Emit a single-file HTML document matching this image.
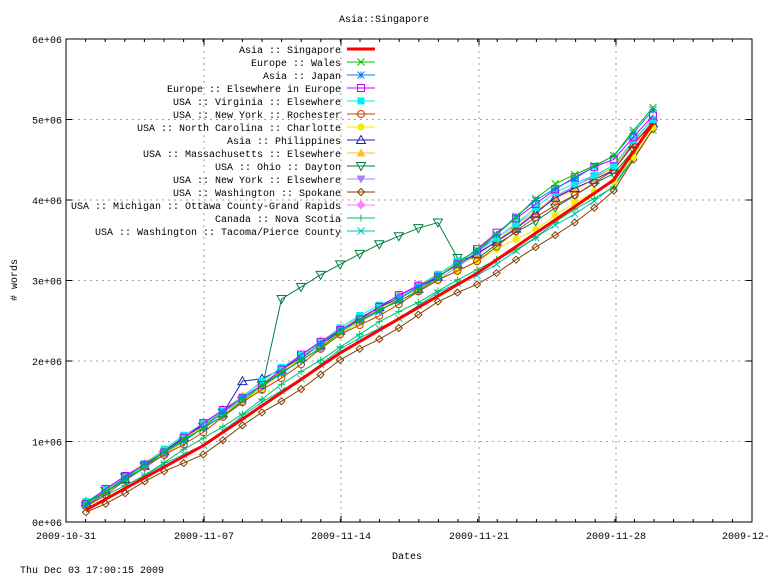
<!DOCTYPE html><html><head><meta charset="utf-8"><style>
body{margin:0;background:#fff}
svg text{font-family:"Liberation Mono",monospace;font-size:10px;fill:#000}
</style></head><body>
<svg id="s" width="768" height="576" xmlns="http://www.w3.org/2000/svg"></svg>
<script>
const s=document.getElementById('s');let h='';
const L=66,R=752,T=39,B=522;
const Y=v=>B-v*80.5, X=i=>86+19.55*i;
h+=`<rect width="768" height="576" fill="#fff"/>`;
for(let k=1;k<6;k++)h+=`<line x1="${L}" x2="${R}" y1="${Y(k)}" y2="${Y(k)}" stroke="#a0a0a0" stroke-dasharray="2,4"/>`;
[204,341,479,616].forEach(x=>h+=`<line x1="${x}" x2="${x}" y1="${T}" y2="${B}" stroke="#a0a0a0" stroke-dasharray="2,4"/>`);
h+=`<rect x="${L}" y="${T}" width="${R-L}" height="${B-T}" fill="none" stroke="#000"/>`;
for(let k=0;k<=6;k++){const y=Y(k);h+=`<line x1="${L}" x2="${L+6}" y1="${y}" y2="${y}" stroke="#000"/><line x1="${R}" x2="${R-6}" y1="${y}" y2="${y}" stroke="#000"/><text x="${L-4}" y="${y+4}" text-anchor="end">${k}e+06</text>`;}
const xd=['2009-10-31','2009-11-07','2009-11-14','2009-11-21','2009-11-28','2009-12-05'];
[66,204,341,479,616,752].forEach((x,j)=>{h+=`<line x1="${x}" x2="${x}" y1="${B}" y2="${B-6}" stroke="#000"/><line x1="${x}" x2="${x}" y1="${T}" y2="${T+6}" stroke="#000"/><text x="${x}" y="${B+17}" text-anchor="middle">${xd[j]}</text>`;});
for(let i=0;i<36;i++){const x=66+19.6*i;if(x>752)break;h+=`<line x1="${x}" x2="${x}" y1="${B}" y2="${B-3}" stroke="#000"/><line x1="${x}" x2="${x}" y1="${T}" y2="${T+3}" stroke="#000"/>`;}
h+=`<text x="384" y="22" text-anchor="middle">Asia::Singapore</text><text x="407" y="559" text-anchor="middle">Dates</text><text x="17" y="280" text-anchor="middle" transform="rotate(-90 17 280)"># words</text><text x="20" y="573">Thu Dec 03 17:00:15 2009</text>`;
function pw(kp,i){for(let k=0;k<kp.length-1;k++){const[a,va]=kp[k],[b,vb]=kp[k+1];if(i<=b)return va+(vb-va)*(i-a)/(b-a);}return kp[kp.length-1][1];}
const kp=[[0,.15],[6,.95],[13,2.1],[20,3.09],[27,4.25],[29,4.95]];
const off=[[0,.08],[6,.26],[13,.3],[20,.24],[24,.27],[27,.15],[29,.05]];
const late=[[0,0],[18,0],[23,.2],[26,.2],[29,.15]];
const S=[
['Asia :: Singapore','#ff0000',0,0,'none'],
['Europe :: Wales','#00c000',.85,1,'x'],
['Asia :: Japan','#0080ff',.9,.8,'star'],
['Europe :: Elsewhere in Europe','#c000ff',1,.6,'sq'],
['USA :: Virginia :: Elsewhere','#00eeee',1.05,.2,'fsq'],
['USA :: New York :: Rochester','#c04000',.7,0,'c'],
['USA :: North Carolina :: Charlotte','#eeee00',.85,-.8,'fc'],
['Asia :: Philippines','#2020c0',.95,0,'tri'],
['USA :: Massachusetts :: Elsewhere','#ffc020',1,0,'ftri'],
['USA :: Ohio :: Dayton','#008040',.85,-.3,'itri'],
['USA :: New York :: Elsewhere','#a080ff',.8,.3,'fitri'],
['USA :: Washington :: Spokane','#804000',-.35,-.5,'dia'],
['USA :: Michigan :: Ottawa County-Grand Rapids','#ff80ff',1,.1,'fdia'],
['Canada :: Nova Scotia','#00c060',.3,-.6,'plus'],
['USA :: Washington :: Tacoma/Pierce County','#00c0c0',.1,-.5,'x']];
function mk(t,x,y,c){const r=3.5;switch(t){
case 'x':return `<path d="M${x-r} ${y-r}L${x+r} ${y+r}M${x-r} ${y+r}L${x+r} ${y-r}" stroke="${c}"/>`;
case 'plus':return `<path d="M${x-r} ${y}H${x+r}M${x} ${y-r}V${y+r}" stroke="${c}"/>`;
case 'star':return `<path d="M${x-r} ${y-r}L${x+r} ${y+r}M${x-r} ${y+r}L${x+r} ${y-r}M${x-r} ${y}H${x+r}M${x} ${y-r}V${y+r}" stroke="${c}"/>`;
case 'sq':return `<rect x="${x-r}" y="${y-r}" width="${2*r}" height="${2*r}" fill="none" stroke="${c}"/>`;
case 'fsq':return `<rect x="${x-r}" y="${y-r}" width="${2*r}" height="${2*r}" fill="${c}"/>`;
case 'c':return `<circle cx="${x}" cy="${y}" r="${r}" fill="none" stroke="${c}"/>`;
case 'fc':return `<circle cx="${x}" cy="${y}" r="${r}" fill="${c}"/>`;
case 'tri':return `<path d="M${x} ${y-r-1}L${x+r+1} ${y+r}H${x-r-1}Z" fill="none" stroke="${c}"/>`;
case 'ftri':return `<path d="M${x} ${y-r-1}L${x+r+1} ${y+r}H${x-r-1}Z" fill="${c}"/>`;
case 'itri':return `<path d="M${x} ${y+r+1}L${x+r+1} ${y-r}H${x-r-1}Z" fill="none" stroke="${c}"/>`;
case 'fitri':return `<path d="M${x} ${y+r+1}L${x+r+1} ${y-r}H${x-r-1}Z" fill="${c}"/>`;
case 'dia':return `<path d="M${x} ${y-r}L${x+r} ${y}L${x} ${y+r}L${x-r} ${y}Z" fill="none" stroke="${c}"/>`;
case 'fdia':return `<path d="M${x} ${y-r-1}L${x+r+1} ${y}L${x} ${y+r+1}L${x-r-1} ${y}Z" fill="${c}"/>`;}return '';}
const ohio={10:2.77,11:2.92,12:3.07,13:3.2,14:3.33,15:3.45,16:3.55,17:3.65,18:3.72,19:3.28};
const fin=[4.95,5.15,5.12,5.05,5.0,4.98,4.9,4.95,5.02,4.95,4.92,4.88,4.97,4.9,4.87];
let plots='';
S.slice().reverse().forEach(sr=>{const [n,c,a,e,t]=sr;const idx=S.indexOf(sr);let pts=[];
for(let i=0;i<30;i++){let v=base=pw(kp,i);
if(idx>0)v+=a*pw(off,i)+e*pw(late,i)+0.02*Math.sin(i*1.3+idx*2);
if(i==29)v=fin[idx];if(idx==9&&ohio[i])v=ohio[i];if(idx==7&&(i==8||i==9))v=1.75+(i-8)*.03;
pts.push([X(i),Y(v)]);}
plots+=`<polyline points="${pts.map(p=>p.join(',')).join(' ')}" fill="none" stroke="${c}" stroke-width="${idx==0?3:1}"/>`;
pts.forEach(p=>plots+=mk(t,p[0],p[1],c));});
h+=plots;
S.forEach((sr,k)=>{const y=49+13*k;h+=`<text x="341" y="${y+4}" text-anchor="end">${sr[0]}</text><line x1="347" x2="375" y1="${y}" y2="${y}" stroke="${sr[1]}" stroke-width="${k==0?3:1}"/>`+mk(sr[4],361,y,sr[1]);});
s.innerHTML=h;
</script></body></html>
